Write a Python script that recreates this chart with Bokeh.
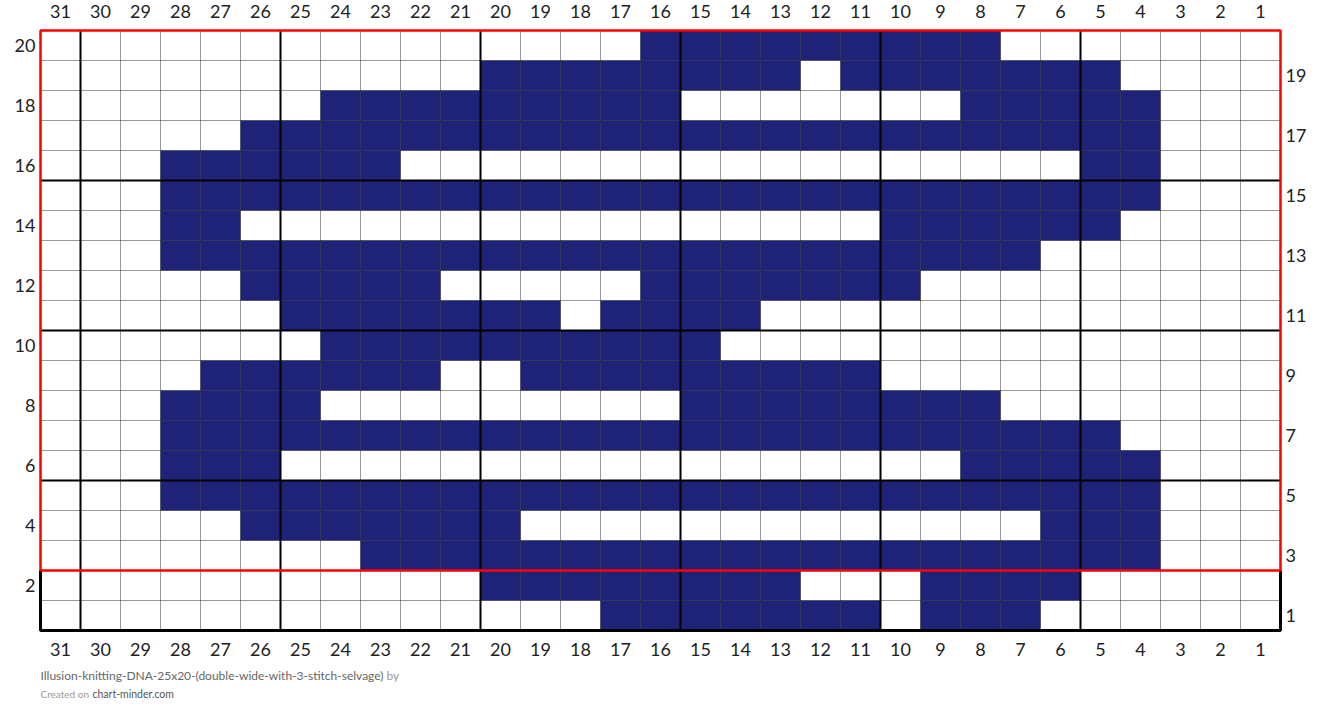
from bokeh.plotting import figure
from bokeh.models import Range1d, ColumnDataSource
from bokeh.embed import file_html
from bokeh.resources import INLINE
from bokeh.core.properties import value

# ---------------- data ----------------
n_cols = 31
n_rows = 20
col_labels = list(range(1, n_cols + 1))
left_row_labels = list(range(2, n_rows + 1, 2))
right_row_labels = list(range(1, n_rows, 2))
major_every = 5
highlight_rows = (3, 20)          # rows enclosed by the red box

# (row, from column, to column) runs of contrast-colour stitches
blue_runs = [
    (20, 16, 8),
    (19, 20, 13), (19, 11, 5),
    (18, 24, 16), (18, 8, 4),
    (17, 26, 4),
    (16, 28, 23), (16, 5, 4),
    (15, 28, 4),
    (14, 28, 27), (14, 10, 5),
    (13, 28, 7),
    (12, 26, 22), (12, 16, 10),
    (11, 25, 19), (11, 17, 14),
    (10, 24, 15),
    (9, 27, 22), (9, 19, 11),
    (8, 28, 25), (8, 15, 8),
    (7, 28, 5),
    (6, 28, 26), (6, 8, 4),
    (5, 28, 4),
    (4, 26, 20), (4, 6, 4),
    (3, 23, 4),
    (2, 20, 13), (2, 9, 6),
    (1, 17, 11), (1, 9, 7),
]

title_text = "Illusion-knitting-DNA-25x20-(double-wide-with-3-stitch-selvage)"
by_text = "by"
created_text = "Created on"
site_text = "chart-minder.com"

# ---------------- style / layout ----------------
BLUE = "#1e2378"
FONT = "Lato"
W, H = 1320, 712
CELL_W, CELL_H = 40, 30
GX0, GY0 = 40, 30      # canvas position of grid's top-left corner


def cx(px):
    return n_cols + 0.5 - (px - GX0) / CELL_W


def cy(py):
    return n_rows + 0.5 - (py - GY0) / CELL_H


p = figure(width=W, height=H, output_backend="svg", toolbar_location=None,
           x_range=Range1d(cx(0), cx(W)), y_range=Range1d(cy(H), cy(0)),
           x_axis_type=None, y_axis_type=None, min_border=0)
p.outline_line_color = None
p.background_fill_color = "white"
p.border_fill_color = "white"
p.grid.visible = False

# cells
cols, rows = [], []
for r, a, b in blue_runs:
    for c in range(min(a, b), max(a, b) + 1):
        cols.append(c)
        rows.append(r)
p.rect(x="c", y="r", width=1, height=1, source=ColumnDataSource(dict(c=cols, r=rows)),
       fill_color=BLUE, line_color=None)

# thin grid lines
vx = [k + 0.5 for k in range(0, n_cols + 1)]
hy = [k + 0.5 for k in range(0, n_rows + 1)]
p.segment(x0=vx, y0=[0.5] * len(vx), x1=vx, y1=[n_rows + 0.5] * len(vx),
          line_color="black", line_alpha=0.4, line_width=1)
p.segment(x0=[0.5] * len(hy), y0=hy, x1=[n_cols + 0.5] * len(hy), y1=hy,
          line_color="black", line_alpha=0.4, line_width=1)

# thick lines every 5
tvx = [k + 0.5 for k in range(major_every, n_cols, major_every)]
thy = [k + 0.5 for k in range(major_every, n_rows, major_every)]
p.segment(x0=tvx, y0=[0.5] * len(tvx), x1=tvx, y1=[n_rows + 0.5] * len(tvx),
          line_color="black", line_width=2)
p.segment(x0=[0.5] * len(thy), y0=thy, x1=[n_cols + 0.5] * len(thy), y1=thy,
          line_color="black", line_width=2)

# outer border below the highlight
lo = highlight_rows[0] - 0.5
p.line(x=[n_cols + 0.5, n_cols + 0.5, 0.5, 0.5], y=[lo, 0.5, 0.5, lo],
       line_color="black", line_width=3)

# red highlight box
p.quad(left=[n_cols + 0.5], right=[0.5], bottom=[lo], top=[highlight_rows[1] + 0.5],
       fill_color=None, line_color="#ff0000", line_width=2.5)

# column / row labels
lab = dict(text_font=value(FONT), text_font_size="18px", text_color="#222222",
           text_baseline="middle")
p.text(x=col_labels, y=[cy(10.5)] * n_cols, text=[str(c) for c in col_labels],
       text_align="center", **lab)
p.text(x=col_labels, y=[cy(648.5)] * n_cols, text=[str(c) for c in col_labels],
       text_align="center", **lab)
p.text(x=[cx(35)] * len(left_row_labels), y=left_row_labels,
       text=[str(r) for r in left_row_labels], text_align="right", **lab)
p.text(x=[cx(1285)] * len(right_row_labels), y=right_row_labels,
       text=[str(r) for r in right_row_labels], text_align="left", **lab)

# footer
p.text(x=[cx(40)], y=[cy(675)], text=[title_text], text_font=value(FONT),
       text_font_size="12px", text_color="#666666", text_align="left",
       text_baseline="middle")
p.text(x=[cx(386)], y=[cy(675)], text=[by_text], text_font=value(FONT),
       text_font_size="12px", text_color="#999999", text_align="left",
       text_baseline="middle")
p.text(x=[cx(40)], y=[cy(693)], text=[created_text], text_font=value(FONT),
       text_font_size="10px", text_color="#999999", text_align="left",
       text_baseline="middle")
p.text(x=[cx(92)], y=[cy(693)], text=[site_text], text_font=value(FONT),
       text_font_size="10.5px", text_color="#555555", text_align="left",
       text_baseline="middle")

open("out.html", "w").write(file_html(p, INLINE))
